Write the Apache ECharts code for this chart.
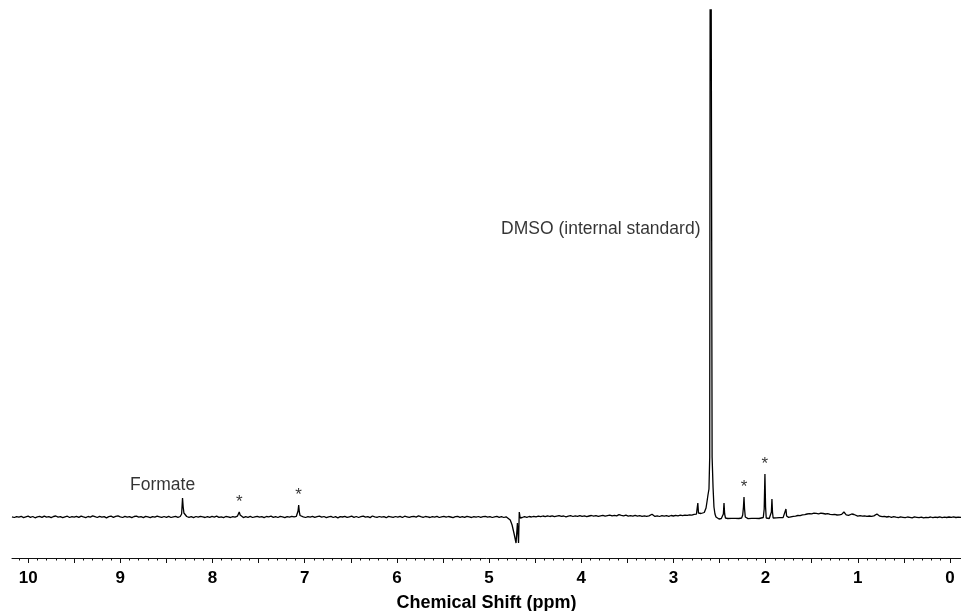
<!DOCTYPE html>
<html>
<head>
<meta charset="utf-8">
<title>1H NMR spectrum</title>
<script src="https://cdn.jsdelivr.net/npm/echarts@6/dist/echarts.min.js"></script>
<style>
  html, body { margin: 0; padding: 0; background: #fff; }
  #chart { width: 961px; height: 611px; }
</style>
</head>
<body>
<div id="chart"></div>
<script>
// Chemical shift axis (ppm), drawn high-to-low as usual for NMR
const shiftMin = -0.12;
const shiftMax = 10.175;
const shiftLabels = [0, 1, 2, 3, 4, 5, 6, 7, 8, 9, 10];

// Intensity range shown (arbitrary units; the DMSO line runs off the top)
const intensityMin = -41;
const intensityMax = 507;

// Spectrum trace: [chemical shift (ppm), intensity (a.u.)]
const spectrum = [
  [10.175,0.2],[10.15,-0.5],[10.125,0.4],[10.10,-0.2],[10.075,0.7],[10.05,-0.6],[10.025,0.1],[10.00,0.8],
  [9.975,-0.3],[9.95,0.5],[9.925,-0.8],[9.90,0.2],[9.875,0.6],[9.85,-0.4],[9.825,0.9],[9.80,-0.2],
  [9.775,0.3],[9.75,-0.7],[9.725,0.5],[9.70,1.0],[9.675,-0.1],[9.65,0.4],[9.625,-0.6],[9.60,0.2],
  [9.575,0.8],[9.55,-0.5],[9.525,0.3],[9.50,-0.2],[9.475,0.7],[9.45,-0.4],[9.425,0.9],[9.40,0.1],
  [9.375,-0.6],[9.35,0.5],[9.325,-0.1],[9.30,1.1],[9.275,0.3],[9.25,-0.5],[9.225,0.6],[9.20,-0.2],
  [9.175,0.4],[9.15,-0.9],[9.125,0.3],[9.10,0.8],[9.075,-0.3],[9.05,0.6],[9.025,1.2],[9.00,0.2],
  [8.975,-0.5],[8.95,0.7],[8.925,-0.2],[8.90,0.4],[8.875,-0.7],[8.85,0.5],[8.825,0.9],[8.80,-0.1],
  [8.775,0.3],[8.75,-0.6],[8.725,0.6],[8.70,0.1],[8.675,-0.7],[8.65,0.4],[8.625,-0.2],[8.60,0.8],
  [8.575,0.2],[8.55,-0.4],[8.525,0.5],[8.50,-0.3],[8.475,0.7],[8.45,-0.5],[8.425,0.2],[8.40,0.6],
  [8.375,-0.3],[8.35,0.5],
  // formate
  [8.335,3],[8.325,19],[8.318,10],[8.31,4],[8.30,2],[8.28,0.5],
  [8.255,-0.4],[8.23,0.3],[8.205,-0.6],[8.18,0.5],[8.155,-0.2],[8.13,0.7],[8.105,0.1],[8.08,-0.5],
  [8.055,0.4],[8.03,-0.3],[8.005,0.6],[7.98,-0.1],[7.955,0.8],[7.93,-0.4],[7.905,0.2],[7.88,-0.7],
  [7.855,0.5],[7.83,0.1],[7.805,-0.5],[7.78,0.3],[7.755,-0.2],[7.73,0.8],
  [7.72,2],[7.71,5],[7.70,2],[7.69,0.3],
  [7.665,-0.6],[7.64,0.3],[7.615,-0.3],[7.59,0.6],[7.565,-0.5],[7.54,0.2],[7.515,0.7],[7.49,-0.2],
  [7.465,0.4],[7.44,-0.6],[7.415,0.5],[7.39,0.1],[7.365,0.8],[7.34,-0.3],[7.315,0.3],[7.29,-0.5],
  [7.265,0.6],[7.24,0.2],[7.215,-0.6],[7.19,0.4],[7.165,-0.1],[7.14,0.6],[7.115,0.2],[7.09,0.7],
  [7.08,2],[7.072,6],[7.065,12],[7.058,5],[7.05,1.5],[7.04,0.8],
  [7.015,0.2],[6.99,-0.5],[6.965,0.4],[6.94,-0.2],[6.915,0.6],[6.89,-0.4],[6.865,0.3],[6.84,0.9],
  [6.815,-0.2],[6.79,0.5],[6.765,-0.6],[6.74,0.2],[6.715,0.6],[6.69,-0.5],[6.665,0.3],[6.64,-0.8],
  [6.615,0.4],[6.59,0.0],[6.565,0.6],[6.54,-0.4],[6.515,0.2],[6.49,0.8],[6.465,-0.3],[6.44,0.5],
  [6.415,-0.5],[6.39,0.3],[6.365,0.9],[6.34,-0.2],[6.315,0.4],[6.29,-0.6],[6.265,1.0],[6.24,0.1],
  [6.215,-0.4],[6.19,0.5],[6.165,-0.2],[6.14,0.3],[6.115,-0.7],[6.09,0.6],[6.065,0.1],[6.04,-0.4],
  [6.015,0.5],[5.99,-0.2],[5.965,0.7],[5.94,-0.5],[5.915,0.8],[5.89,0.2],[5.865,-0.4],[5.84,0.3],
  [5.815,0.6],[5.79,-0.1],[5.765,1.2],[5.74,0.4],[5.715,-0.3],[5.69,0.5],[5.665,0.1],[5.64,-0.5],
  [5.615,0.4],[5.59,-0.1],[5.565,0.6],[5.54,-0.5],[5.515,0.2],[5.49,0.7],[5.465,-0.2],[5.44,0.5],
  [5.415,0.0],[5.39,-0.6],[5.365,0.3],[5.34,0.6],[5.315,-0.3],[5.29,0.4],[5.265,-0.4],[5.24,0.7],
  [5.215,0.1],[5.19,-0.5],[5.165,0.4],[5.14,-0.2],[5.115,0.5],[5.09,-0.4],[5.065,0.3],[5.04,0.7],
  [5.015,-0.1],[4.99,0.4],[4.965,-0.5],[4.94,0.2],[4.915,0.6],[4.89,-0.3],[4.865,0.3],[4.84,-0.5],
  [4.815,0.2],
  // residual water, phase distorted
  [4.80,-0.5],[4.77,-3],[4.75,-8],[4.73,-16],[4.707,-26],[4.692,-6],[4.68,-26],[4.672,5],
  [4.662,-1],
  [4.64,-0.5],[4.615,0.3],[4.59,-0.3],[4.565,0.5],[4.54,0.0],[4.515,0.7],[4.49,0.2],[4.465,0.9],
  [4.44,0.3],[4.415,1.0],[4.39,0.4],[4.365,1.2],[4.34,0.5],[4.315,1.1],[4.29,0.3],[4.265,0.9],
  [4.24,1.4],[4.215,0.6],[4.19,1.0],[4.165,0.2],[4.14,0.9],[4.115,1.3],[4.09,0.5],[4.065,1.2],
  [4.04,0.7],[4.015,1.4],[3.99,0.6],[3.965,1.1],[3.94,0.4],[3.915,1.0],[3.89,1.5],[3.865,0.8],
  [3.84,1.3],[3.815,0.6],[3.79,1.2],[3.765,1.7],[3.74,0.9],[3.715,1.4],[3.69,1.9],[3.665,1.2],
  [3.64,1.7],[3.615,1.1],[3.59,2.3],[3.565,1.6],[3.54,1.2],[3.515,1.8],[3.49,0.9],[3.465,1.4],
  [3.44,0.8],[3.415,1.6],[3.39,0.9],[3.365,1.3],[3.34,0.7],[3.315,1.2],[3.29,0.6],[3.265,1.1],
  [3.245,1.4],[3.232,2.8],[3.222,1.0],[3.20,0.6],[3.175,1.2],[3.15,0.5],[3.125,1.3],[3.10,0.8],
  [3.075,1.4],[3.05,0.7],[3.025,1.5],[3.00,1.0],[2.975,1.6],[2.95,1.1],[2.925,1.8],[2.90,1.3],
  [2.875,1.9],[2.85,1.6],[2.825,2.2],[2.80,1.9],[2.775,2.6],[2.75,2.8],
  [2.742,4],[2.735,14],[2.728,4],[2.72,3.2],[2.70,3.5],[2.68,4],[2.665,4.5],[2.657,5.5],
  // DMSO
  [2.646,9],[2.636,15],[2.625,22],[2.614,28],[2.606,60],[2.598,900],[2.589,900],[2.580,60],
  [2.570,30],[2.560,10],[2.549,3],[2.538,0],[2.527,-1.5],[2.505,-2],[2.48,-1.5],[2.465,-1],
  [2.458,3],[2.451,14],[2.444,3],[2.435,-1],[2.41,-1.5],[2.39,-0.9],[2.37,-1.4],[2.35,-0.7],
  [2.33,-1.3],[2.31,-0.8],[2.29,-1.5],[2.27,-0.9],[2.26,-1],[2.248,2],[2.240,10],[2.234,20],
  [2.228,8],[2.22,0],[2.21,-1],[2.19,-1.6],[2.17,-0.7],[2.15,-1.3],[2.13,-0.6],[2.11,-1.4],
  [2.09,-0.8],[2.07,-1.5],[2.05,-1.0],[2.025,-0.5],[2.015,8],[2.007,43],[2.000,10],[1.993,-1],
  [1.985,-2],[1.96,-1.5],[1.945,-0.5],[1.937,5],[1.931,18],[1.925,5],[1.918,-1],[1.90,-1.5],
  [1.885,-0.8],[1.87,-1.4],[1.85,-0.6],[1.83,-1.2],[1.81,-0.6],[1.79,0.5],[1.779,8],[1.772,1],
  [1.76,-1],[1.75,-0.4],[1.725,0.1],[1.70,0.6],[1.675,0.9],[1.65,1.5],[1.625,1.3],[1.60,2.1],
  [1.575,2.4],[1.55,3.0],[1.525,3.4],[1.50,3.1],[1.475,3.8],[1.45,3.6],[1.425,3.2],[1.40,3.9],
  [1.375,3.5],[1.35,3.0],[1.325,3.3],[1.30,2.6],[1.275,2.3],[1.25,2.6],[1.225,2.0],[1.20,2.2],
  [1.175,2.6],[1.16,3.5],[1.15,5],[1.14,4],[1.125,2.2],[1.10,1.6],[1.08,1.9],[1.065,3],
  [1.052,4],[1.04,2.5],[1.02,1.2],[1.00,0.9],[0.975,1.3],[0.95,0.8],[0.925,1.2],[0.90,0.6],
  [0.875,1.0],[0.85,0.7],[0.825,1.1],[0.805,2],[0.792,3],[0.78,1.5],[0.76,0.8],[0.735,0.3],
  [0.71,0.6],[0.685,0.0],[0.66,0.5],[0.635,-0.3],[0.61,0.3],[0.585,-0.2],[0.56,-0.6],[0.535,0.1],
  [0.51,-0.3],[0.485,-0.7],[0.46,0.0],[0.435,-0.4],[0.41,-0.8],[0.385,0.1],[0.36,-0.3],[0.335,-0.7],
  [0.31,-0.2],[0.285,-0.9],[0.26,-0.3],[0.235,-0.6],[0.21,0.0],[0.185,-0.7],[0.16,-0.2],[0.135,-0.5],
  [0.11,0.1],[0.085,-0.6],[0.06,-0.2],[0.035,-0.5],[0.01,0.0],[-0.015,-0.4],[-0.04,0.1],[-0.065,-0.5],
  [-0.09,-0.1],[-0.12,-0.3]
];

// Unassigned impurity signals, marked with an asterisk: [ppm, peak intensity]
const starredPeaks = [[7.71, 5], [7.065, 12], [2.234, 20], [2.007, 43]];

// Named assignments: text, anchor shift, anchor intensity
const assignmentNames = ['Formate', 'DMSO (internal standard)'];
const assignmentShifts = [8.325, 2.598];
const assignmentLevels = [19, 288];

const axisColor = '#111';
const textColor = '#000';
const font = '"Liberation Sans", Arial, Helvetica, sans-serif';

// tick positions: every 0.5 ppm (long) and every 0.1 ppm (short)
const halfTicks = [];
for (let i = 0; i <= 20; i++) halfTicks.push(i / 2);
const tenthTicks = [];
for (let i = 0; i <= 101; i++) tenthTicks.push(i / 10);

const chart = echarts.init(document.getElementById('chart'), null, { renderer: 'canvas' });

chart.setOption({
  animation: false,
  backgroundColor: '#fff',
  grid: { left: 12, right: 0, top: 10, bottom: 53, containLabel: false, outerBoundsMode: 'none' },
  xAxis: [
    {
      type: 'value',
      min: shiftMin,
      max: shiftMax,
      inverse: true,
      position: 'bottom',
      splitLine: { show: false },
      axisLine: { show: true, onZero: false, lineStyle: { color: axisColor, width: 1 } },
      axisTick: { show: true, customValues: halfTicks, length: 5, lineStyle: { color: axisColor, width: 1 } },
      axisLabel: {
        show: true,
        customValues: shiftLabels,
        margin: 12,
        color: textColor,
        fontFamily: font,
        fontWeight: 'bold',
        fontSize: 17
      },
      name: 'Chemical Shift (ppm)',
      nameLocation: 'middle',
      nameGap: 36,
      nameTextStyle: { color: textColor, fontFamily: font, fontWeight: 'bold', fontSize: 18 }
    },
    {
      type: 'value',
      min: shiftMin,
      max: shiftMax,
      inverse: true,
      position: 'bottom',
      offset: 0,
      splitLine: { show: false },
      axisLine: { show: false, onZero: false },
      axisTick: { show: true, customValues: tenthTicks, length: 2.5, lineStyle: { color: axisColor, width: 1 } },
      axisLabel: { show: false }
    }
  ],
  yAxis: {
    type: 'value',
    min: intensityMin,
    max: intensityMax,
    show: false,
    splitLine: { show: false }
  },
  series: [
    {
      name: 'spectrum',
      type: 'line',
      data: spectrum,
      showSymbol: false,
      symbol: 'none',
      clip: true,
      lineStyle: { color: '#000', width: 1.3 },
      silent: true
    },
    {
      name: 'starred',
      type: 'scatter',
      data: starredPeaks,
      symbolSize: 0,
      silent: true,
      label: {
        show: true,
        position: 'top',
        distance: 1,
        formatter: '*',
        color: textColor,
        fontFamily: font,
        fontSize: 17
      }
    },
    {
      name: 'assignments',
      type: 'scatter',
      symbolSize: 0,
      silent: true,
      data: assignmentNames.map((name, i) => ({
        value: [assignmentShifts[i], assignmentLevels[i]],
        name: name,
        label: i === 0
          ? { position: 'top', distance: 4, offset: [-20, 0] }
          : { position: 'left', distance: 10 }
      })),
      label: {
        show: true,
        formatter: p => p.name,
        color: textColor,
        fontFamily: font,
        fontSize: 17.5
      }
    }
  ]
});
</script>
</body>
</html>
